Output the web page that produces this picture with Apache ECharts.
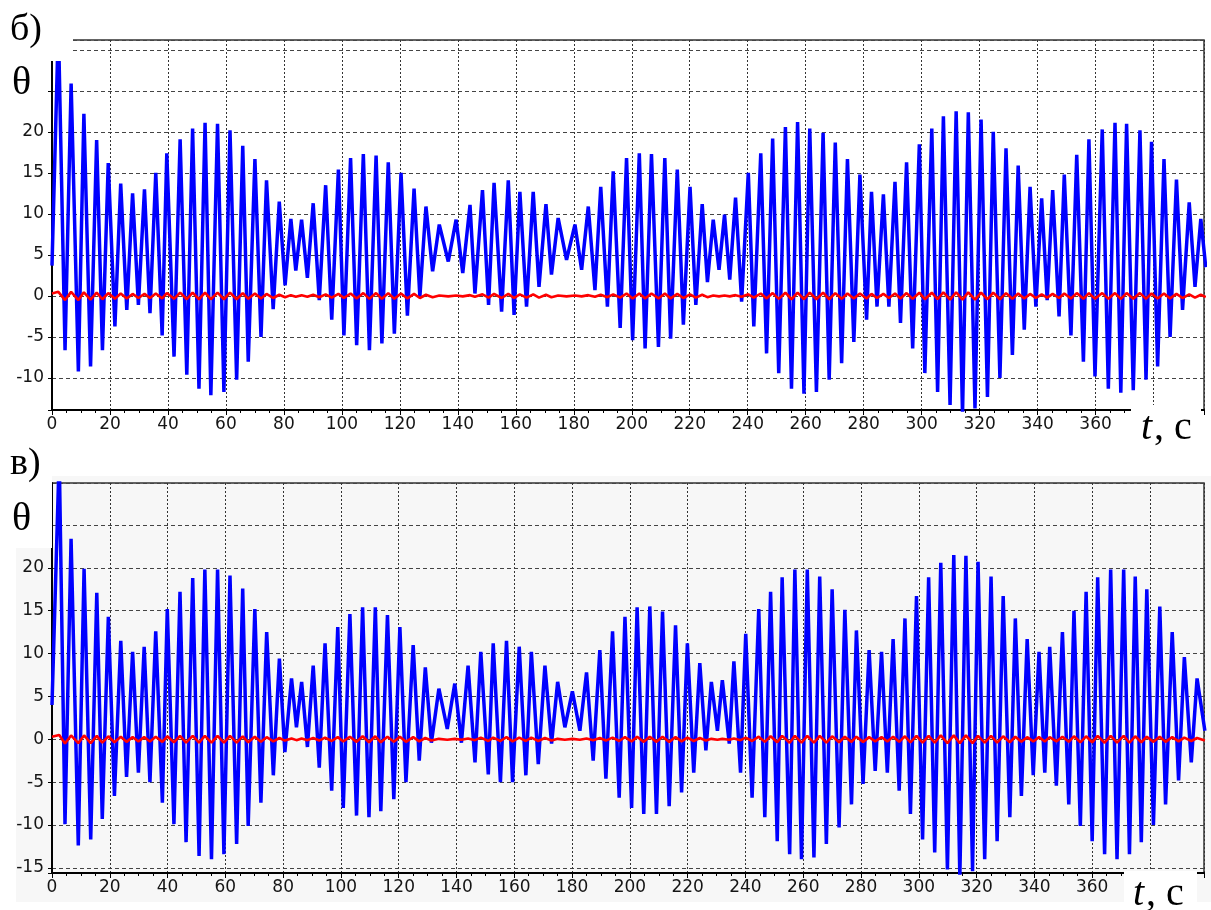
<!DOCTYPE html>
<html>
<head>
<meta charset="utf-8">
<script src="https://cdn.jsdelivr.net/npm/echarts@6/dist/echarts.min.js"></script>
<style>
html, body { margin: 0; padding: 0; background: #fff; }
#chart { width: 1211px; height: 910px; }
</style>
</head>
<body>
<div id="chart"></div>
<script>
// ---- panel б): angle θ (blue) and control signal (red) ----
const topPeakT = [2.2, 6.6, 11.0, 15.4, 19.4, 23.7, 27.8, 31.9, 35.8, 39.6, 44.2, 48.5, 52.8, 57.1, 61.4, 65.8, 70.0, 74.0, 78.4, 82.4,
  86.1, 90.1, 94.4, 98.8, 103.0, 107.4, 111.8, 116.0, 120.4, 124.9, 129.0, 133.6, 139.4, 144.2, 148.5, 152.5, 157.4, 161.4, 166.0, 170.4,
  174.6, 180.4, 185.0, 189.3, 193.6, 198.2, 202.6, 206.8, 211.4, 215.7, 220.1, 224.3, 228.1, 232.0, 235.8, 240.2, 244.5, 248.6, 253.0, 257.2,
  261.4, 266.0, 270.2, 274.4, 278.7, 282.7, 286.8, 290.8, 294.8, 299.2, 303.5, 307.5, 311.9, 316.1, 320.5, 324.7, 329.1, 333.3, 337.4, 341.4,
  345.2, 349.2, 353.5, 357.7, 362.3, 366.7, 370.7, 375.3, 379.3, 383.6, 387.9, 392.3, 396.3];
const topPeakV = [33, 25.9, 22.2, 19.0, 16.2, 13.7, 12.5, 13.0, 15.0, 17.4, 19.1, 20.4, 21.1, 21.0, 20.2, 18.3, 16.7, 14.1, 11.5, 9.4,
  9.3, 11.3, 13.5, 15.4, 16.8, 17.3, 17.1, 16.3, 15.0, 13.1, 10.9, 8.7, 9.3, 11.1, 12.9, 13.8, 14.1, 12.7, 12.7, 11.2,
  9.5, 8.7, 10.9, 13.3, 15.2, 16.8, 17.4, 17.3, 16.8, 15.4, 13.3, 11.2, 9.3, 9.9, 12.0, 15.0, 17.4, 19.2, 20.6, 21.2,
  20.4, 19.9, 18.7, 16.7, 14.8, 12.7, 12.4, 13.9, 16.3, 18.5, 20.4, 21.9, 22.5, 22.4, 21.5, 20.0, 18.0, 15.9, 13.3, 11.9,
  12.9, 14.8, 17.2, 19.1, 20.3, 21.1, 21.0, 20.2, 18.8, 16.7, 14.2, 11.4, 9.4];
const topTroughT = [0, 4.5, 9.1, 13.3, 17.4, 21.7, 25.8, 29.8, 33.8, 38.0, 42.1, 46.5, 50.7, 54.8, 59.3, 63.7, 67.7, 72.1, 76.3, 80.4,
  84.1, 88.1, 92.2, 96.5, 100.7, 105.1, 109.5, 113.8, 118.1, 122.6, 126.9, 131.3, 136.7, 141.7, 145.9, 150.6, 155.1, 159.4, 163.7, 168.0,
  172.3, 177.5, 182.7, 187.3, 191.6, 196.0, 200.3, 204.6, 209.2, 213.4, 217.8, 222.1, 226.1, 230.1, 233.8, 237.9, 242.1, 246.5, 250.7, 255.1,
  259.4, 263.7, 268.1, 272.4, 276.6, 281.0, 284.6, 288.7, 292.7, 296.9, 301.1, 305.5, 309.8, 314.1, 318.4, 322.7, 327.0, 331.3, 335.4, 339.4,
  343.3, 347.4, 351.5, 355.8, 359.8, 364.4, 368.7, 373.0, 377.4, 381.4, 385.7, 390.0, 394.3, 398.0];
const topTroughV = [3.7, -6.6, -9.2, -8.6, -6.6, -3.7, -1.7, -1.1, -2.1, -4.8, -7.4, -9.6, -11.3, -12.1, -11.7, -10.2, -8.0, -5.0, -1.6, 1.3,
  3.1, 2.2, -0.5, -2.9, -4.8, -6.0, -6.6, -5.8, -4.6, -2.4, -0.1, 3.0, 4.2, 2.8, 0.3, -1.1, -1.9, -2.3, -1.3, 1.1,
  2.6, 4.4, 3.2, 0.7, -1.3, -3.9, -5.4, -6.4, -6.2, -5.2, -3.5, -1.1, 1.7, 3.2, 2.0, -0.7, -3.7, -7.0, -9.4, -11.3,
  -11.9, -11.7, -10.2, -8.2, -5.6, -2.9, -1.3, -1.3, -3.3, -6.4, -9.4, -11.7, -13.3, -14.5, -13.7, -12.3, -10.0, -7.2, -4.1, -1.3,
  -0.5, -2.5, -4.8, -8.0, -9.8, -11.3, -11.8, -11.5, -10.2, -8.6, -5.0, -1.7, 1.1, 3.5];
const topRedPeak = [0.5, 0.5, 0.45, 0.4, 0.35, 0.3, 0.25, 0.25, 0.3, 0.35, 0.4, 0.4, 0.4, 0.4, 0.4, 0.35, 0.3, 0.25, 0.15, 0.1,
  0.1, 0.15, 0.2, 0.25, 0.3, 0.35, 0.35, 0.35, 0.3, 0.25, 0.15, 0.05, 0.05, 0.1, 0.2, 0.25, 0.25, 0.2, 0.2, 0.15,
  0.05, 0.05, 0.1, 0.15, 0.2, 0.3, 0.3, 0.3, 0.3, 0.25, 0.2, 0.15, 0.05, 0.05, 0.1, 0.2, 0.3, 0.35, 0.4, 0.4,
  0.4, 0.4, 0.35, 0.3, 0.3, 0.25, 0.25, 0.3, 0.35, 0.4, 0.4, 0.45, 0.45, 0.45, 0.4, 0.4, 0.35, 0.3, 0.25, 0.2,
  0.25, 0.3, 0.35, 0.35, 0.35, 0.35, 0.35, 0.35, 0.3, 0.3, 0.25, 0.2, 0.15];
const topRedTrough = [0.3, -0.5, -0.5, -0.45, -0.4, -0.35, -0.3, -0.25, -0.25, -0.3, -0.35, -0.4, -0.4, -0.4, -0.4, -0.4, -0.35, -0.3, -0.25, -0.15,
  -0.1, -0.1, -0.15, -0.2, -0.25, -0.3, -0.35, -0.35, -0.35, -0.3, -0.25, -0.15, -0.05, -0.05, -0.1, -0.2, -0.25, -0.25, -0.2, -0.2,
  -0.15, -0.05, -0.05, -0.1, -0.15, -0.2, -0.3, -0.3, -0.3, -0.3, -0.25, -0.2, -0.15, -0.05, -0.05, -0.1, -0.2, -0.3, -0.35, -0.4,
  -0.4, -0.4, -0.4, -0.35, -0.3, -0.3, -0.25, -0.25, -0.3, -0.35, -0.4, -0.4, -0.45, -0.45, -0.45, -0.4, -0.4, -0.35, -0.3, -0.25,
  -0.2, -0.25, -0.3, -0.35, -0.35, -0.35, -0.35, -0.35, -0.35, -0.3, -0.3, -0.25, -0.2, -0.15];

// ---- panel в) ----
const botPeakT = [2.5, 6.6, 11.1, 15.5, 19.5, 23.8, 27.9, 31.9, 35.9, 39.9, 44.3, 48.7, 52.9, 57.3, 61.6, 66.0, 70.2, 74.3, 78.7, 82.9,
  86.4, 90.4, 94.5, 98.9, 103.1, 107.5, 111.9, 116.1, 120.4, 125.0, 129.2, 133.9, 139.4, 144.0, 148.4, 152.7, 157.3, 161.7, 165.9, 170.6,
  175.0, 180.1, 185.0, 189.6, 194.0, 198.3, 202.5, 206.9, 211.3, 215.8, 219.9, 224.2, 228.2, 232.0, 236.0, 240.1, 244.6, 248.7, 252.7, 257.1,
  261.4, 265.7, 270.0, 274.4, 278.4, 282.8, 287.1, 291.1, 295.2, 299.2, 303.4, 307.6, 312.1, 316.3, 320.5, 325.0, 329.2, 333.4, 337.5, 341.6,
  345.3, 349.7, 353.7, 357.9, 361.9, 366.4, 370.9, 374.9, 378.9, 383.4, 387.7, 391.9, 396.3];
const botPeakV = [33, 23.4, 19.9, 17.1, 14.3, 11.5, 10.2, 10.8, 12.6, 15.2, 17.2, 18.8, 19.8, 19.8, 19.1, 17.6, 15.2, 12.5, 9.4, 7.1,
  6.7, 8.6, 11.2, 13.1, 14.6, 15.4, 15.4, 14.5, 13.1, 11.0, 8.4, 5.9, 6.5, 8.6, 10.2, 11.2, 11.5, 10.8, 10.2, 8.6,
  6.7, 5.6, 7.8, 10.4, 12.6, 14.3, 15.4, 15.5, 14.9, 13.3, 11.2, 8.9, 6.7, 6.9, 9.1, 12.3, 15.2, 17.2, 18.9, 19.8,
  19.8, 19.0, 17.5, 15.1, 12.7, 10.4, 10.2, 11.7, 14.1, 16.7, 18.9, 20.6, 21.5, 21.4, 20.7, 19.0, 16.7, 14.1, 11.7, 10.2,
  10.8, 12.5, 15.0, 17.2, 18.9, 19.8, 19.8, 19.0, 17.5, 15.5, 12.5, 9.6, 7.1];
const botTroughT = [0, 4.5, 9.1, 13.4, 17.4, 21.6, 25.8, 29.9, 33.9, 38.2, 42.2, 46.4, 50.9, 55.2, 59.5, 63.9, 67.9, 72.3, 76.6, 80.6,
  84.6, 88.4, 92.5, 96.8, 100.8, 105.4, 109.7, 113.8, 118.3, 122.5, 127.1, 131.3, 136.8, 141.7, 146.4, 151.0, 155.2, 159.4, 164.0, 168.3,
  172.9, 177.5, 182.7, 187.3, 191.7, 196.3, 200.6, 204.8, 209.2, 213.6, 217.9, 222.1, 226.3, 230.3, 234.4, 238.3, 242.3, 246.7, 251.0, 255.3,
  259.4, 263.7, 268.0, 272.4, 276.7, 280.7, 284.9, 289.1, 293.2, 297.1, 301.3, 305.5, 309.9, 314.2, 318.6, 322.8, 327.1, 331.5, 335.5, 339.6,
  343.6, 347.6, 351.9, 355.9, 360.0, 364.3, 368.6, 372.9, 377.0, 381.2, 385.4, 389.9, 394.3, 399.0];
const botTroughV = [4.0, -9.9, -12.4, -11.7, -9.3, -6.6, -4.4, -3.9, -5.0, -7.4, -9.9, -12.0, -13.6, -14.0, -13.4, -12.2, -10.1, -7.4, -4.2, -1.5,
  1.4, -0.9, -3.3, -6.0, -8.0, -8.9, -9.1, -8.4, -7.0, -5.0, -2.5, -0.4, 1.2, -0.4, -2.7, -4.1, -5.0, -5.0, -4.2, -2.9,
  -0.5, 1.4, 1.0, -2.5, -4.6, -6.8, -8.0, -8.7, -8.7, -7.8, -6.2, -3.9, -1.3, 1.0, -0.5, -3.9, -6.8, -9.1, -11.9, -13.4,
  -14.0, -13.8, -12.2, -10.3, -7.6, -5.2, -3.7, -3.9, -6.0, -8.7, -11.7, -13.2, -15.2, -16.0, -15.4, -14.0, -11.9, -9.1, -6.6, -4.2,
  -3.9, -5.4, -7.6, -10.1, -11.9, -13.4, -14.0, -13.4, -12.0, -10.0, -7.6, -4.8, -2.7, 1.0];
const botRedPeak = [0.5, 0.45, 0.45, 0.4, 0.35, 0.3, 0.25, 0.25, 0.3, 0.35, 0.4, 0.4, 0.4, 0.4, 0.4, 0.35, 0.3, 0.25, 0.15, 0.1,
  0.1, 0.15, 0.2, 0.25, 0.3, 0.35, 0.35, 0.3, 0.3, 0.25, 0.15, 0.05, 0.05, 0.1, 0.2, 0.2, 0.25, 0.2, 0.2, 0.15,
  0.05, 0.05, 0.1, 0.15, 0.2, 0.25, 0.3, 0.3, 0.3, 0.25, 0.2, 0.15, 0.05, 0.05, 0.1, 0.2, 0.3, 0.35, 0.4, 0.4,
  0.4, 0.4, 0.35, 0.3, 0.3, 0.25, 0.25, 0.3, 0.35, 0.4, 0.4, 0.45, 0.45, 0.45, 0.4, 0.4, 0.35, 0.3, 0.25, 0.25,
  0.25, 0.3, 0.35, 0.35, 0.4, 0.4, 0.4, 0.35, 0.3, 0.3, 0.25, 0.2, 0.15];
const botRedTrough = [0.3, -0.5, -0.45, -0.45, -0.4, -0.35, -0.3, -0.25, -0.25, -0.3, -0.35, -0.4, -0.4, -0.4, -0.4, -0.4, -0.35, -0.3, -0.25, -0.15,
  -0.1, -0.1, -0.15, -0.2, -0.25, -0.3, -0.35, -0.35, -0.3, -0.3, -0.25, -0.15, -0.05, -0.05, -0.1, -0.2, -0.2, -0.25, -0.2, -0.2,
  -0.15, -0.05, -0.05, -0.1, -0.15, -0.2, -0.25, -0.3, -0.3, -0.3, -0.25, -0.2, -0.15, -0.05, -0.05, -0.1, -0.2, -0.3, -0.35, -0.4,
  -0.4, -0.4, -0.4, -0.35, -0.3, -0.3, -0.25, -0.25, -0.3, -0.35, -0.4, -0.4, -0.45, -0.45, -0.45, -0.4, -0.4, -0.35, -0.3, -0.25,
  -0.25, -0.25, -0.3, -0.35, -0.35, -0.4, -0.4, -0.4, -0.35, -0.3, -0.3, -0.25, -0.2, -0.15];

// axis tick labels that are printed
const xTickLabels = [0, 20, 40, 60, 80, 100, 120, 140, 160, 180, 200, 220, 240, 260, 280, 300, 320, 340, 360];
const yTickLabels = [-15, -10, -5, 0, 5, 10, 15, 20];

// merge the extremum lists into one time-ordered polyline
function joinExtrema(tA, vA, tB, vB) {
  const pts = [];
  tA.forEach((t, i) => pts.push([t, vA[i]]));
  tB.forEach((t, i) => pts.push([t, vB[i]]));
  pts.sort((a, b) => a[0] - b[0]);
  return pts;
}

const topBlue = joinExtrema(topPeakT, topPeakV, topTroughT, topTroughV);
const topRed = joinExtrema(topPeakT, topRedPeak, topTroughT, topRedTrough);
const botBlue = joinExtrema(botPeakT, botPeakV, botTroughT, botTroughV);
const botRed = joinExtrema(botPeakT, botRedPeak, botTroughT, botRedTrough);

const labelFont = 'DejaVu Sans';
const labelColor = '#151515';
const serif = '"Liberation Serif", "Times New Roman", serif';

function xAxisCfg(grid, max) {
  return {
    gridIndex: grid, type: 'value', min: 0, max: max, splitNumber: 20,
    axisLine: { onZero: false, lineStyle: { color: '#000', width: 2 } },
    axisTick: { length: 5, lineStyle: { color: '#000', width: 1 } },
    minorTick: { show: true, splitNumber: 4, length: 3, lineStyle: { color: '#000', width: 1 } },
    splitLine: { show: true, lineStyle: { color: '#333', width: 1, type: [2, 2] } },
    axisLabel: {
      margin: 6, color: labelColor, fontFamily: labelFont, fontSize: 17,
      formatter: v => (xTickLabels.indexOf(v) >= 0 ? String(v) : '')
    }
  };
}
function yAxisCfg(grid, min, max) {
  return {
    gridIndex: grid, type: 'value', min: min, max: max, splitNumber: 9,
    axisLine: { onZero: false, lineStyle: { color: '#000', width: 2 } },
    axisTick: { length: 4, lineStyle: { color: '#000', width: 1 } },
    splitLine: { show: true, lineStyle: { color: '#444', width: 1, type: [4, 3] } },
    axisLabel: {
      margin: 8, color: labelColor, fontFamily: labelFont, fontSize: 17,
      formatter: v => (yTickLabels.indexOf(v) >= 0 ? String(v) : '')
    }
  };
}
function lineSeries(xi, data, color, width, z) {
  return {
    type: 'line', xAxisIndex: xi, yAxisIndex: xi, data: data,
    showSymbol: false, silent: true, clip: true, z: z,
    lineStyle: { color: color, width: width, join: 'bevel' }
  };
}

const chart = echarts.init(document.getElementById('chart'), null, { renderer: 'canvas' });
chart.setOption({
  animation: false,
  backgroundColor: '#ffffff',
  grid: [
    { left: 52, top: 40, width: 1152, height: 370, show: true, borderColor: '#333', borderWidth: 1.5, backgroundColor: '#ffffff' },
    { left: 52, top: 483, width: 1152, height: 390, show: true, borderColor: '#333', borderWidth: 1.5, backgroundColor: '#f7f7f7' }
  ],
  xAxis: [xAxisCfg(0, 397.4), xAxisCfg(1, 398.7)],
  yAxis: [yAxisCfg(0, -13.9, 31.2), yAxisCfg(1, -15.6, 29.9)],
  series: [
    lineSeries(0, topBlue, '#0000ff', 3.5, 3),
    lineSeries(0, topRed, '#ff0000', 2.6, 4),
    lineSeries(1, botBlue, '#0000ff', 3.5, 3),
    lineSeries(1, botRed, '#ff0000', 2.6, 4)
  ],
  graphic: [
    // grey backdrop of the lower panel
    { type: 'rect', z: -10, silent: true, shape: { x: 16, y: 476, width: 1195, height: 426 }, style: { fill: '#f7f7f7' } },
    // white label plates
    { type: 'rect', z: 100, silent: true, shape: { x: 0, y: 0, width: 73, height: 61 }, style: { fill: '#fff' } },
    { type: 'rect', z: 100, silent: true, shape: { x: 0, y: 440, width: 52, height: 108 }, style: { fill: '#fff' } },
    { type: 'rect', z: 100, silent: true, shape: { x: 1131, y: 405, width: 70, height: 50 }, style: { fill: '#fff' } },
    { type: 'rect', z: 100, silent: true, shape: { x: 1124, y: 871, width: 73, height: 39 }, style: { fill: '#fff' } },
    // panel letters and axis names
    { type: 'text', z: 101, silent: true, x: 10, y: 30, style: { text: 'б)', font: '38px ' + serif, fill: '#000', verticalAlign: 'middle' } },
    { type: 'text', z: 101, silent: true, x: 10, y: 464, style: { text: 'в)', font: '38px ' + serif, fill: '#000', verticalAlign: 'middle' } },
    { type: 'text', z: 101, silent: true, x: 12, y: 83, style: { text: 'θ', font: '40px ' + serif, fill: '#000', verticalAlign: 'middle' } },
    { type: 'text', z: 101, silent: true, x: 12, y: 519, style: { text: 'θ', font: '40px ' + serif, fill: '#000', verticalAlign: 'middle' } },
    { type: 'text', z: 101, silent: true, x: 1141, y: 428, style: { text: 't', font: 'italic 40px ' + serif, fill: '#000', verticalAlign: 'middle' } },
    { type: 'text', z: 101, silent: true, x: 1154, y: 428, style: { text: ', c', font: '40px ' + serif, fill: '#000', verticalAlign: 'middle' } },
    { type: 'text', z: 101, silent: true, x: 1133, y: 894, style: { text: 't', font: 'italic 40px ' + serif, fill: '#000', verticalAlign: 'middle' } },
    { type: 'text', z: 101, silent: true, x: 1146, y: 894, style: { text: ', c', font: '40px ' + serif, fill: '#000', verticalAlign: 'middle' } }
  ]
});
</script>
</body>
</html>
